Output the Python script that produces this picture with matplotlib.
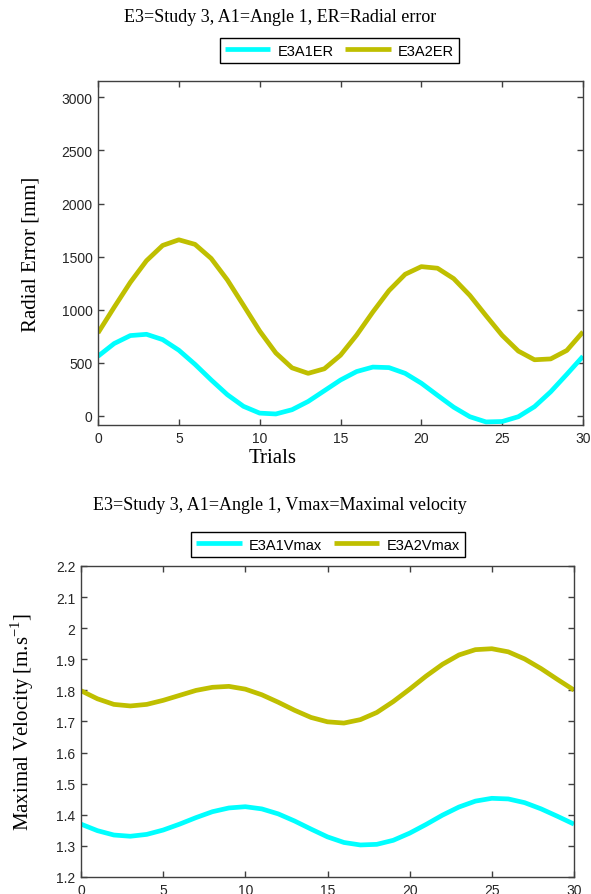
import matplotlib
matplotlib.use('Agg')
import matplotlib.pyplot as plt

# essais (trials)
trials = list(range(31))

# erreur radiale [mm]
e3a1_er = [560, 680, 755, 767, 717, 617, 484, 337, 198, 88, 24,
           16, 56, 134, 235, 336, 416, 458, 453, 399, 306,
           192, 80, -10, -59, -55, -10, 85, 225, 390, 560]
e3a2_er = [780, 1022, 1257, 1461, 1605, 1658, 1615, 1482, 1280, 1040, 798,
           591, 451, 399, 442, 570, 760, 977, 1179, 1333, 1405,
           1390, 1292, 1134, 943, 757, 609, 527, 535, 615, 790]

# vitesse maximale [m/s]
e3a1_vmax = [1.370, 1.349, 1.335, 1.331, 1.337, 1.351, 1.370, 1.391, 1.410, 1.422, 1.426,
             1.419, 1.403, 1.380, 1.354, 1.329, 1.311, 1.303, 1.305, 1.318, 1.341,
             1.369, 1.399, 1.425, 1.444, 1.453, 1.451, 1.439, 1.419, 1.395, 1.370]
e3a2_vmax = [1.799, 1.773, 1.755, 1.750, 1.755, 1.768, 1.784, 1.800, 1.810, 1.813, 1.804,
             1.786, 1.762, 1.736, 1.713, 1.699, 1.695, 1.706, 1.729, 1.764, 1.804,
             1.846, 1.884, 1.914, 1.931, 1.934, 1.924, 1.901, 1.870, 1.835, 1.801]

er_ticks = [0, 500, 1000, 1500, 2000, 2500, 3000]
v_ticks = [1.2, 1.3, 1.4, 1.5, 1.6, 1.7, 1.8, 1.9, 2.0, 2.1, 2.2]
v_labels = ['1.2', '1.3', '1.4', '1.5', '1.6', '1.7', '1.8', '1.9', '2', '2.1', '2.2']
x_ticks = [0, 5, 10, 15, 20, 25, 30]

cyan = '#00FFFF'
olive = '#BFBF00'
W, H = 591, 895

fig = plt.figure(figsize=(W / 100, H / 100), dpi=100)
fig.patch.set_facecolor('white')


def axe(l, r, t, b):
    return fig.add_axes([l / W, 1 - b / H, (r - l) / W, (b - t) / H])


def style(ax):
    for s in ax.spines.values():
        s.set_color('#404040')
        s.set_linewidth(1.0)
    ax.tick_params(direction='in', top=True, right=True, length=4, width=1,
                   color='#404040', labelcolor='#262626', labelsize=10, pad=4)
    for lab in ax.get_xticklabels() + ax.get_yticklabels():
        lab.set_family('Liberation Sans')


def courbe(ax, y, c):
    l, = ax.plot(trials, y, color=c, lw=3.4, solid_capstyle='butt',
                 solid_joinstyle='round')
    return l


leg_opts = dict(loc='center', ncol=2,
                prop={'family': 'Liberation Sans', 'size': 10.5},
                frameon=True, fancybox=False, edgecolor='black', framealpha=1,
                handlelength=3.1, handletextpad=0.5, columnspacing=0.8,
                borderpad=0.35, borderaxespad=0)

# --- erreur radiale ---
ax1 = axe(98, 583, 82, 426)
l1 = courbe(ax1, e3a1_er, cyan)
l2 = courbe(ax1, e3a2_er, olive)
ax1.set_xlim(0, 30)
ax1.set_ylim(-88, 3155)
ax1.set_xticks(x_ticks)
ax1.set_yticks(er_ticks)
style(ax1)
ax1.set_ylabel('Radial Error [mm]', family='Liberation Serif', fontsize=15, labelpad=15)
fig.text(273 / W, 1 - 459 / H, 'Trials', family='Liberation Serif', fontsize=15,
         ha='center', va='center')
fig.text(280 / W, 1 - 18 / H, 'E3=Study 3, A1=Angle 1, ER=Radial error',
         family='Liberation Serif', fontsize=13, ha='center', va='center')
leg = fig.legend([l1, l2], ['E3A1ER', 'E3A2ER'],
                 bbox_to_anchor=(339.5 / W, 1 - 51.5 / H), **leg_opts)
leg.get_frame().set_linewidth(1.0)

# --- vitesse maximale ---
ax2 = axe(81, 574, 567, 878)
m1 = courbe(ax2, e3a1_vmax, cyan)
m2 = courbe(ax2, e3a2_vmax, olive)
ax2.set_xlim(0, 30)
ax2.set_ylim(1.2, 2.2)
ax2.set_xticks(x_ticks)
ax2.set_yticks(v_ticks)
ax2.set_yticklabels(v_labels)
style(ax2)
ax2.set_ylabel(r'Maximal Velocity [m.s$^{\mathregular{-1}}$]', family='Liberation Serif',
               fontsize=15, labelpad=14)
fig.text(280 / W, 1 - 506 / H, 'E3=Study 3, A1=Angle 1, Vmax=Maximal velocity',
         family='Liberation Serif', fontsize=13, ha='center', va='center')
leg = fig.legend([m1, m2], ['E3A1Vmax', 'E3A2Vmax'],
                 bbox_to_anchor=(328 / W, 1 - 545.5 / H), **leg_opts)
leg.get_frame().set_linewidth(1.0)

fig.savefig('out.png', dpi=100)
